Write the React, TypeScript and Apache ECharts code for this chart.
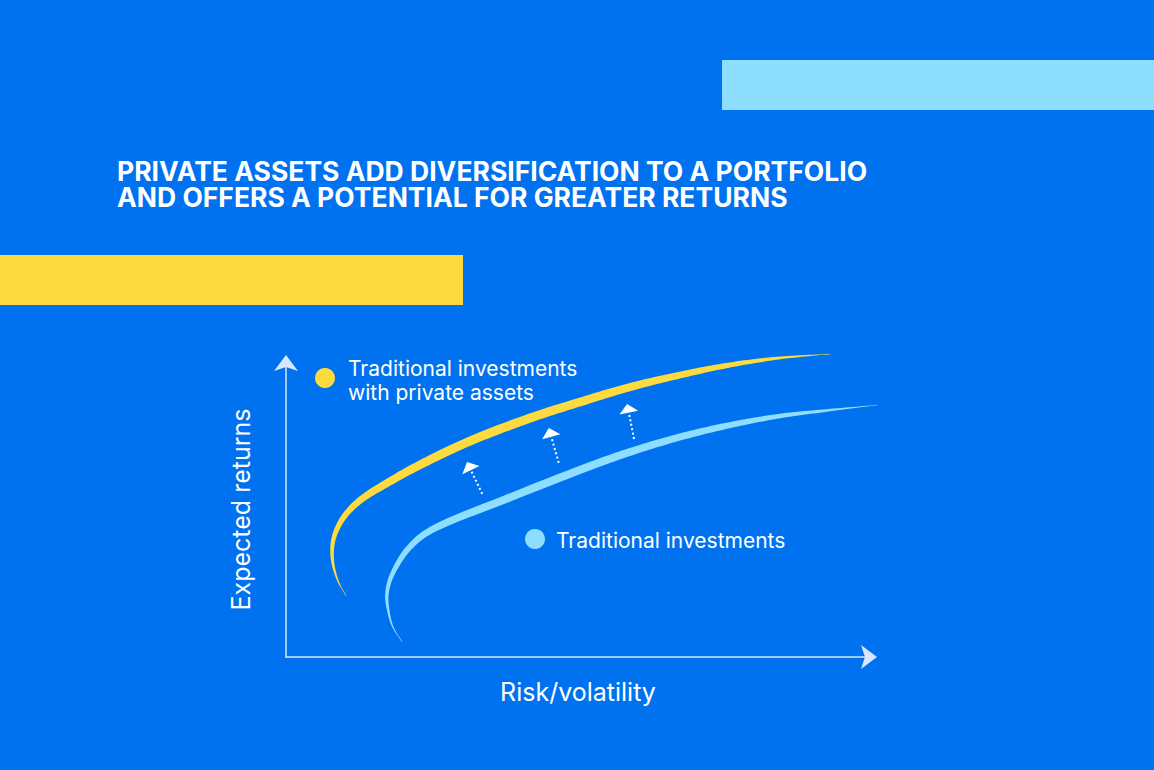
import React, { useEffect, useRef } from "react";
import * as echarts from "echarts";

// ---- Text ----
const TITLE_LINES = [
  "PRIVATE ASSETS ADD DIVERSIFICATION TO A PORTFOLIO",
  "AND OFFERS A POTENTIAL FOR GREATER RETURNS",
];
const X_AXIS_NAME = "Risk/volatility";
const Y_AXIS_NAME = "Expected returns";
const SERIES_NAMES = ["Traditional investments\nwith private assets", "Traditional investments"];

// ---- Data (risk on x, expected return on y, both 0–100 scale) ----
const withPrivateRisk = [10.3, 8.9, 8.0, 8.0, 8.9, 10.6, 13.2, 17.0, 22.9, 31.5, 41.8, 50.3, 58.9, 67.5, 76.0, 84.6, 93.2];
const withPrivateReturn = [20.7, 25.8, 32.2, 38.6, 44.1, 49.2, 53.9, 58.6, 65.1, 73.2, 81.0, 86.4, 91.5, 95.6, 99.0, 101.4, 102.7];

const traditionalRisk = [19.9, 18.3, 17.5, 17.3, 18.3, 21.2, 25.9, 37.2, 50.3, 58.9, 67.5, 76.0, 84.6, 93.2, 101.2];
const traditionalReturn = [5.1, 10.2, 15.9, 21.7, 28.5, 37.3, 44.1, 53.2, 63.4, 69.5, 74.6, 78.6, 81.7, 83.7, 85.4];

// shift arrows: from (risk, return) to (risk, return)
const shiftFromRisk = [33.6, 46.7, 59.6];
const shiftFromReturn = [55.3, 65.8, 73.9];
const shiftToRisk = [31.0, 45.0, 58.4];
const shiftToReturn = [66.1, 77.6, 85.8];

// ---- Colours ----
const BG = "#0072EF";
const YELLOW = "#FDDB3E";
const LIGHT_BLUE = "#8EDFFF";
const AXIS = "#d6e8ff";

function catmull(pts: number[][], steps: number) {
  const out: number[][] = [];
  for (let i = 0; i < pts.length - 1; i++) {
    const p0 = pts[Math.max(i - 1, 0)];
    const p1 = pts[i];
    const p2 = pts[i + 1];
    const p3 = pts[Math.min(i + 2, pts.length - 1)];
    for (let s = 0; s < steps; s++) {
      const t = s / steps;
      const t2 = t * t;
      const t3 = t2 * t;
      const f = (k: number) =>
        0.5 *
        (2 * p1[k] +
          (-p0[k] + p2[k]) * t +
          (2 * p0[k] - 5 * p1[k] + 4 * p2[k] - p3[k]) * t2 +
          (-p0[k] + 3 * p1[k] - 3 * p2[k] + p3[k]) * t3);
      out.push([f(0), f(1)]);
    }
  }
  out.push(pts[pts.length - 1]);
  return out;
}

function widthAt(t: number, maxW: number, peak: number) {
  let r;
  if (t < peak) r = 1 - Math.pow((peak - t) / peak, 2.5);
  else r = 1 - Math.pow((t - peak) / (1 - peak), 2.5);
  return Math.max(0.6, maxW * r);
}

function makeCurveRenderer(xs: number[], ys: number[], color: string, maxW: number) {
  return (params: any, api: any) => {
    if (params.dataIndex !== 0) return null;
    const pts = xs.map((x, i) => api.coord([x, ys[i]]));
    const dense = catmull(pts, 14);
    const n = dense.length;
    const cum = [0];
    for (let i = 1; i < n; i++) {
      cum.push(cum[i - 1] + Math.hypot(dense[i][0] - dense[i - 1][0], dense[i][1] - dense[i - 1][1]));
    }
    const L = cum[n - 1];
    const left: number[][] = [];
    const right: number[][] = [];
    for (let i = 0; i < n; i++) {
      const prev = dense[Math.max(i - 1, 0)];
      const next = dense[Math.min(i + 1, n - 1)];
      const dx = next[0] - prev[0];
      const dy = next[1] - prev[1];
      const len = Math.hypot(dx, dy) || 1;
      const nx = -dy / len;
      const ny = dx / len;
      const w = widthAt(cum[i] / L, maxW, 0.42) / 2;
      const p = dense[i];
      left.push([p[0] + nx * w, p[1] + ny * w]);
      right.push([p[0] - nx * w, p[1] - ny * w]);
    }
    return {
      type: "polygon",
      shape: { points: left.concat(right.reverse()) },
      style: { fill: color },
    };
  };
}

function arrowRenderer(params: any, api: any) {
  const a = api.coord([api.value(0), api.value(1)]);
  const b = api.coord([api.value(2), api.value(3)]);
  const dx = b[0] - a[0];
  const dy = b[1] - a[1];
  const len = Math.hypot(dx, dy) || 1;
  const ux = dx / len;
  const uy = dy / len;
  const px = -uy;
  const py = ux;
  const headLen = 9;
  const halfBase = 9.5;
  const base = [b[0] - ux * headLen, b[1] - uy * headLen];
  return {
    type: "group",
    children: [
      {
        type: "line",
        shape: { x1: a[0], y1: a[1], x2: base[0], y2: base[1] },
        style: { stroke: "#ffffff", lineWidth: 2, lineDash: [2, 2.5] },
      },
      {
        type: "polygon",
        shape: {
          points: [
            [b[0], b[1]],
            [base[0] + px * halfBase, base[1] + py * halfBase],
            [base[0] - px * halfBase, base[1] - py * halfBase],
          ],
        },
        style: { fill: "#ffffff" },
      },
    ],
  };
}

export default function App() {
  const ref = useRef<HTMLDivElement>(null);

  useEffect(() => {
    if (!ref.current) return;
    const chart = echarts.init(ref.current, null, { renderer: "svg" });
    const font = "Inter, 'Noto Sans', sans-serif";

    const axisCommon = {
      type: "value",
      min: 0,
      max: 100,
      nameLocation: "middle",
      nameTextStyle: { color: "#ffffff", fontSize: 25, fontFamily: font },
      axisLine: {
        show: true,
        symbol: ["none", "arrow"],
        symbolSize: [18, 16],
        symbolOffset: [0, 7],
        lineStyle: { color: AXIS, width: 1.5 },
      },
      axisTick: { show: false },
      axisLabel: { show: false },
      splitLine: { show: false },
    };

    const option: any = {
      animation: false,
      backgroundColor: BG,
      grid: { left: 286, right: 284, top: 362, bottom: 113, containLabel: false },
      xAxis: { ...axisCommon, name: X_AXIS_NAME, nameGap: 22 },
      yAxis: { ...axisCommon, name: Y_AXIS_NAME, nameGap: 33 },
      series: [
        {
          type: "custom",
          name: SERIES_NAMES[0],
          clip: false,
          renderItem: makeCurveRenderer(withPrivateRisk, withPrivateReturn, YELLOW, 9),
          data: withPrivateRisk.map((x, i) => [x, withPrivateReturn[i]]),
          encode: { x: 0, y: 1 },
          z: 3,
        },
        {
          type: "custom",
          name: SERIES_NAMES[1],
          clip: false,
          renderItem: makeCurveRenderer(traditionalRisk, traditionalReturn, LIGHT_BLUE, 8),
          data: traditionalRisk.map((x, i) => [x, traditionalReturn[i]]),
          encode: { x: 0, y: 1 },
          z: 3,
        },
        {
          type: "custom",
          name: "shift",
          clip: false,
          renderItem: arrowRenderer,
          data: shiftFromRisk.map((x, i) => [x, shiftFromReturn[i], shiftToRisk[i], shiftToReturn[i]]),
          encode: { x: [0, 2], y: [1, 3] },
          z: 4,
        },
      ],
      graphic: [
        { type: "rect", shape: { x: 722, y: 60, width: 432, height: 50 }, style: { fill: "#8EDFFF" }, z: 1 },
        { type: "rect", shape: { x: 0, y: 255, width: 463, height: 50 }, style: { fill: YELLOW }, z: 1 },
        ...TITLE_LINES.map((line, i) => ({
          type: "text",
          x: 117,
          y: 170.5 + i * 26.5,
          style: {
            text: line,
            fill: "#ffffff",
            fontFamily: font,
            fontSize: 26.5,
            fontWeight: 700,
            textVerticalAlign: "middle",
            verticalAlign: "middle",
          },
          z: 5,
        })),
        { type: "circle", shape: { cx: 325, cy: 378, r: 10 }, style: { fill: YELLOW }, z: 5 },
        {
          type: "text",
          x: 348,
          y: 380,
          style: {
            text: SERIES_NAMES[0],
            fill: "#ffffff",
            fontFamily: font,
            fontSize: 21,
            lineHeight: 24,
            textVerticalAlign: "middle",
            verticalAlign: "middle",
          },
          z: 5,
        },
        { type: "circle", shape: { cx: 535, cy: 539, r: 10 }, style: { fill: LIGHT_BLUE }, z: 5 },
        {
          type: "text",
          x: 556,
          y: 540,
          style: {
            text: SERIES_NAMES[1],
            fill: "#ffffff",
            fontFamily: font,
            fontSize: 21,
            lineHeight: 24,
            textVerticalAlign: "middle",
            verticalAlign: "middle",
          },
          z: 5,
        },
      ],
    };

    chart.setOption(option);
    return () => chart.dispose();
  }, []);

  return (
    <div
      ref={ref}
      style={{ position: "fixed", left: 0, top: 0, width: 1154, height: 770 }}
    />
  );
}
